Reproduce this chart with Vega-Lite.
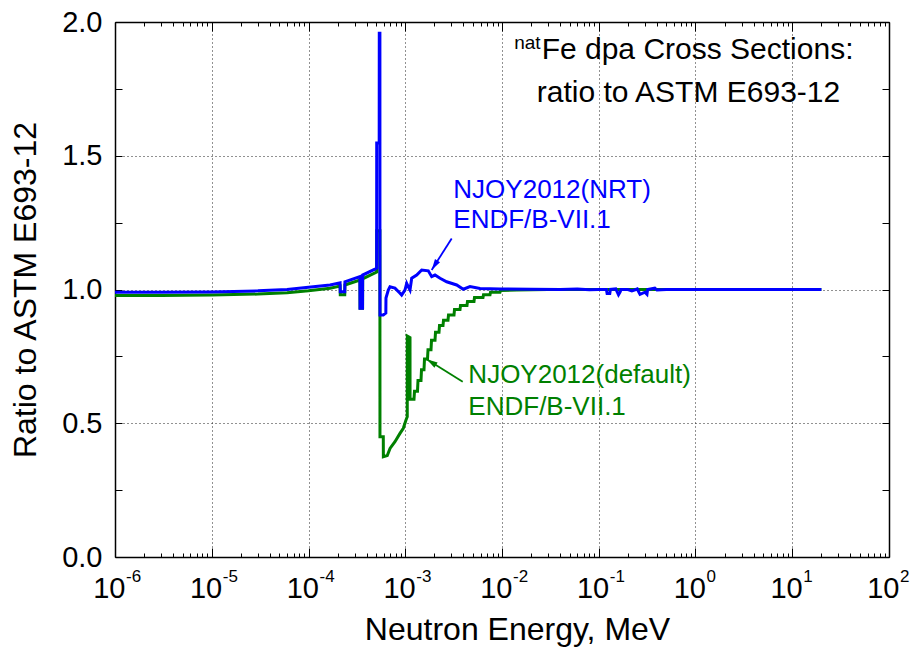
{
  "$schema": "https://vega.github.io/schema/vega-lite/v6.json",
  "width": 774,
  "height": 535,
  "autosize": {"type": "none"},
  "padding": {"left": 115, "top": 22, "right": 22, "bottom": 96},
  "background": "white",
  "config": {
    "view": {"stroke": null},
    "font": "Liberation Sans",
    "axis": {"labelFont": "Liberation Sans", "titleFont": "Liberation Sans", "labelColor": "black", "titleColor": "black", "tickColor": "black", "domainColor": "black", "titleFontWeight": "normal"}
  },
  "datasets": {
    "nrt": [
      {"E": 1e-6, "v": 0.990}, {"E": 3e-6, "v": 0.990}, {"E": 1e-5, "v": 0.991}, {"E": 3e-5, "v": 0.995},
      {"E": 6e-5, "v": 1.0}, {"E": 1e-4, "v": 1.008}, {"E": 1.67e-4, "v": 1.017}, {"E": 2.12e-4, "v": 1.025},
      {"E": 2.13e-4, "v": 0.992}, {"E": 2.37e-4, "v": 0.992}, {"E": 2.38e-4, "v": 1.029}, {"E": 3.40e-4, "v": 1.048},
      {"E": 3.41e-4, "v": 0.93}, {"E": 3.62e-4, "v": 0.93}, {"E": 3.63e-4, "v": 1.054}, {"E": 4.86e-4, "v": 1.076},
      {"E": 5.06e-4, "v": 1.08}, {"E": 5.07e-4, "v": 1.548}, {"E": 5.38e-4, "v": 1.548}, {"E": 5.39e-4, "v": 1.958},
      {"E": 5.47e-4, "v": 1.958}, {"E": 5.48e-4, "v": 0.905}, {"E": 5.93e-4, "v": 0.905}, {"E": 6.30e-4, "v": 0.912},
      {"E": 6.32e-4, "v": 0.968}, {"E": 6.68e-4, "v": 0.998}, {"E": 6.95e-4, "v": 1.01}, {"E": 7.83e-4, "v": 1.005},
      {"E": 8.83e-4, "v": 0.986}, {"E": 9.18e-4, "v": 0.979}, {"E": 9.93e-4, "v": 0.998}, {"E": 1.035e-3, "v": 1.023},
      {"E": 1.076e-3, "v": 1.01}, {"E": 1.12e-3, "v": 0.998}, {"E": 1.166e-3, "v": 1.042}, {"E": 1.313e-3, "v": 1.054},
      {"E": 1.479e-3, "v": 1.073}, {"E": 1.73e-3, "v": 1.07}, {"E": 1.876e-3, "v": 1.048}, {"E": 2.03e-3, "v": 1.054},
      {"E": 2.29e-3, "v": 1.042}, {"E": 2.68e-3, "v": 1.029}, {"E": 3.4e-3, "v": 1.017}, {"E": 3.98e-3, "v": 1.001},
      {"E": 4.67e-3, "v": 1.011}, {"E": 5.93e-3, "v": 1.004}, {"E": 9.53e-3, "v": 1.002}, {"E": 0.02, "v": 1.001},
      {"E": 0.04, "v": 1.0}, {"E": 0.06, "v": 1.002}, {"E": 0.08, "v": 0.999}, {"E": 0.1, "v": 1.0},
      {"E": 0.12, "v": 1.0}, {"E": 0.122, "v": 0.985}, {"E": 0.13, "v": 0.985}, {"E": 0.132, "v": 1.0},
      {"E": 0.15, "v": 1.002}, {"E": 0.16, "v": 0.98}, {"E": 0.166, "v": 0.99}, {"E": 0.17, "v": 1.0},
      {"E": 0.2, "v": 1.0}, {"E": 0.22, "v": 0.995}, {"E": 0.25, "v": 1.002}, {"E": 0.267, "v": 0.982},
      {"E": 0.3, "v": 0.99}, {"E": 0.315, "v": 0.982}, {"E": 0.32, "v": 1.0}, {"E": 0.38, "v": 1.005},
      {"E": 0.4, "v": 0.998}, {"E": 0.5, "v": 1.0}, {"E": 1, "v": 1.0}, {"E": 20, "v": 1.0}
    ],
    "def": [
      {"E": 1e-6, "v": 0.978}, {"E": 3e-6, "v": 0.978}, {"E": 1e-5, "v": 0.979}, {"E": 3e-5, "v": 0.983},
      {"E": 6e-5, "v": 0.988}, {"E": 1e-4, "v": 0.995}, {"E": 1.67e-4, "v": 1.005}, {"E": 2.12e-4, "v": 1.013},
      {"E": 2.13e-4, "v": 0.98}, {"E": 2.37e-4, "v": 0.98}, {"E": 2.38e-4, "v": 1.017}, {"E": 3.40e-4, "v": 1.035},
      {"E": 3.41e-4, "v": 0.93}, {"E": 3.62e-4, "v": 0.93}, {"E": 3.63e-4, "v": 1.04}, {"E": 5.06e-4, "v": 1.065},
      {"E": 5.07e-4, "v": 1.22}, {"E": 5.47e-4, "v": 1.22}, {"E": 5.48e-4, "v": 0.45}, {"E": 5.93e-4, "v": 0.45},
      {"E": 5.94e-4, "v": 0.375}, {"E": 6.52e-4, "v": 0.379}, {"E": 6.96e-4, "v": 0.406}, {"E": 7.83e-4, "v": 0.431},
      {"E": 8.82e-4, "v": 0.462}, {"E": 9.55e-4, "v": 0.481}, {"E": 1.018e-3, "v": 0.512}, {"E": 1.049e-3, "v": 0.524},
      {"E": 1.05e-3, "v": 0.826}, {"E": 1.12e-3, "v": 0.82}, {"E": 1.121e-3, "v": 0.59},
      {"E": 1.2316e-3, "v": 0.59}, {"E": 1.2463e-3, "v": 0.62}, {"E": 1.3384e-3, "v": 0.62}, {"E": 1.3545e-3, "v": 0.66},
      {"E": 1.4547e-3, "v": 0.66}, {"E": 1.4721e-3, "v": 0.70}, {"E": 1.5621e-3, "v": 0.70}, {"E": 1.5810e-3, "v": 0.74},
      {"E": 1.6982e-3, "v": 0.74}, {"E": 1.7185e-3, "v": 0.775}, {"E": 1.8455e-3, "v": 0.775}, {"E": 1.8677e-3, "v": 0.81},
      {"E": 2.0300e-3, "v": 0.81}, {"E": 2.0545e-3, "v": 0.84}, {"E": 2.2330e-3, "v": 0.84}, {"E": 2.2599e-3, "v": 0.865},
      {"E": 2.4559e-3, "v": 0.865}, {"E": 2.4855e-3, "v": 0.885}, {"E": 2.7664e-3, "v": 0.885}, {"E": 2.7997e-3, "v": 0.905},
      {"E": 3.1911e-3, "v": 0.905}, {"E": 3.2295e-3, "v": 0.925}, {"E": 3.6805e-3, "v": 0.925}, {"E": 3.7248e-3, "v": 0.94},
      {"E": 4.3459e-3, "v": 0.94}, {"E": 4.3982e-3, "v": 0.955}, {"E": 5.1346e-3, "v": 0.955}, {"E": 5.1963e-3, "v": 0.97},
      {"E": 6.3604e-3, "v": 0.97}, {"E": 6.4370e-3, "v": 0.98}, {"E": 7.5162e-3, "v": 0.98}, {"E": 7.6066e-3, "v": 0.99},
      {"E": 9.5346e-3, "v": 0.99}, {"E": 9.6490e-3, "v": 0.996},
      {"E": 1.42e-2, "v": 0.998}, {"E": 0.03, "v": 1.0}, {"E": 20, "v": 1.0}
    ],
    "exps": [
      {"E": 1e-6, "t": "-6"}, {"E": 1e-5, "t": "-5"}, {"E": 1e-4, "t": "-4"}, {"E": 1e-3, "t": "-3"},
      {"E": 1e-2, "t": "-2"}, {"E": 1e-1, "t": "-1"}, {"E": 1, "t": "0"}, {"E": 10, "t": "1"}, {"E": 100, "t": "2"}
    ],
    "notes": [
      {"E": 3.14e-3, "v": 1.342, "t": "NJOY2012(NRT)", "s": "NRT"},
      {"E": 3.14e-3, "v": 1.230, "t": "ENDF/B-VII.1", "s": "NRT"},
      {"E": 4.49e-3, "v": 0.649, "t": "NJOY2012(default)", "s": "default"},
      {"E": 4.49e-3, "v": 0.531, "t": "ENDF/B-VII.1", "s": "default"}
    ],
    "title": [
      {"E": 0.0257, "v": 1.862, "t": "Fe dpa Cross Sections:"},
      {"E": 0.02284, "v": 1.701, "t": "ratio to ASTM E693-12"}
    ],
    "sup": [{"E": 0.0257, "v": 1.862, "t": "nat"}],
    "arrows": [
      {"E1": 3.02e-3, "v1": 1.191, "E2": 1.876e-3, "v2": 1.073, "s": "NRT"},
      {"E1": 3.925e-3, "v1": 0.655, "E2": 1.666e-3, "v2": 0.739, "s": "default"}
    ]
  },
  "resolve": {"axis": {"x": "independent", "y": "independent"}},
  "layer": [
    {
      "data": {"name": "def"},
      "mark": {"type": "line", "color": "#008000", "strokeWidth": 3},
      "encoding": {
        "x": {"field": "E", "type": "quantitative",
          "scale": {"type": "log", "domain": [1e-6, 100], "nice": false},
          "axis": {"orient": "bottom", "values": [1e-6, 1e-5, 1e-4, 1e-3, 1e-2, 1e-1, 1, 10, 100],
            "labelExpr": "'10'", "labelFontSize": 29, "labelAlign": "right", "labelOffset": 10,
            "labelBaseline": "alphabetic", "labelPadding": 49, "labelFlush": false, "labelOverlap": false,
            "tickSize": -9, "tickWidth": 1, "domainWidth": 1.5,
            "grid": true, "gridColor": "#222222", "gridDash": [1, 3], "gridWidth": 1,
            "title": "Neutron Energy, MeV", "titleFontSize": 32, "titleX": 402, "titleY": 82,
            "titleBaseline": "alphabetic", "titleAlign": "center"}},
        "y": {"field": "v", "type": "quantitative",
          "scale": {"domain": [0, 2], "nice": false, "zero": false},
          "axis": {"orient": "left", "values": [0, 0.25, 0.5, 0.75, 1, 1.25, 1.5, 1.75, 2],
            "labelExpr": "datum.value*2 == round(datum.value*2) ? format(datum.value, '.1f') : ''",
            "labelFontSize": 29, "labelPadding": 20, "labelBaseline": "middle", "labelFlush": false, "labelOverlap": false,
            "tickSize": -7, "tickWidth": 1, "domainWidth": 1.5,
            "grid": true, "gridColor": "#222222", "gridDash": [1, 3], "gridWidth": 1,
            "gridOpacity": {"condition": {"test": "datum.value*2 != round(datum.value*2) || datum.value == 0 || datum.value == 2", "value": 0}, "value": 1},
            "title": "Ratio to ASTM E693-12", "titleFontSize": 32, "titleX": -80, "titleY": 267.5,
            "titleBaseline": "alphabetic", "titleAlign": "center", "titleAngle": -90}}
      }
    },
    {
      "data": {"name": "nrt"},
      "mark": {"type": "line", "color": "#0000ff", "strokeWidth": 3},
      "encoding": {
        "x": {"field": "E", "type": "quantitative",
          "scale": {"type": "log", "domain": [1e-6, 100], "nice": false},
          "axis": {"orient": "top", "values": [1e-6, 1e-5, 1e-4, 1e-3, 1e-2, 1e-1, 1, 10, 100],
            "labels": false, "tickSize": -9, "tickWidth": 1, "domainWidth": 1.5, "grid": false, "title": null}},
        "y": {"field": "v", "type": "quantitative",
          "scale": {"domain": [0, 2], "nice": false, "zero": false},
          "axis": {"orient": "right", "values": [0, 0.25, 0.5, 0.75, 1, 1.25, 1.5, 1.75, 2],
            "labels": false, "tickSize": -7, "tickWidth": 1, "domainWidth": 1.5, "grid": false, "title": null}}
      }
    },
    {
      "data": {"name": "exps"},
      "mark": {"type": "text", "font": "Liberation Sans", "fontSize": 17, "align": "left", "baseline": "alphabetic", "dx": 11, "dy": 25, "color": "black"},
      "encoding": {
        "x": {"field": "E", "type": "quantitative",
          "scale": {"type": "log", "domain": [1e-6, 100], "nice": false},
          "axis": {"orient": "bottom", "values": [2e-6,3e-6,4e-6,5e-6,6e-6,7e-6,8e-6,9e-6,2e-5,3e-5,4e-5,5e-5,6e-5,7e-5,8e-5,9e-5,2e-4,3e-4,4e-4,5e-4,6e-4,7e-4,8e-4,9e-4,2e-3,3e-3,4e-3,5e-3,6e-3,7e-3,8e-3,9e-3,2e-2,3e-2,4e-2,5e-2,6e-2,7e-2,8e-2,9e-2,0.2,0.3,0.4,0.5,0.6,0.7,0.8,0.9,2,3,4,5,6,7,8,9,20,30,40,50,60,70,80,90],
            "labels": false, "domain": false, "grid": false, "tickSize": -4, "tickWidth": 1, "title": null}},
        "y": {"datum": 0, "type": "quantitative", "scale": {"domain": [0, 2], "nice": false, "zero": false}, "axis": null},
        "text": {"field": "t"}
      }
    },
    {
      "data": {"name": "notes"},
      "mark": {"type": "text", "font": "Liberation Sans", "fontSize": 26, "align": "left", "baseline": "alphabetic"},
      "encoding": {
        "x": {"field": "E", "type": "quantitative",
          "scale": {"type": "log", "domain": [1e-6, 100], "nice": false},
          "axis": {"orient": "top", "values": [2e-6,3e-6,4e-6,5e-6,6e-6,7e-6,8e-6,9e-6,2e-5,3e-5,4e-5,5e-5,6e-5,7e-5,8e-5,9e-5,2e-4,3e-4,4e-4,5e-4,6e-4,7e-4,8e-4,9e-4,2e-3,3e-3,4e-3,5e-3,6e-3,7e-3,8e-3,9e-3,2e-2,3e-2,4e-2,5e-2,6e-2,7e-2,8e-2,9e-2,0.2,0.3,0.4,0.5,0.6,0.7,0.8,0.9,2,3,4,5,6,7,8,9,20,30,40,50,60,70,80,90],
            "labels": false, "domain": false, "grid": false, "tickSize": -4, "tickWidth": 1, "title": null}},
        "y": {"field": "v", "type": "quantitative", "scale": {"domain": [0, 2], "nice": false, "zero": false}, "axis": null},
        "text": {"field": "t"},
        "color": {"field": "s", "type": "nominal", "scale": {"domain": ["NRT", "default"], "range": ["#0000ff", "#008000"]}, "legend": null}
      }
    },
    {
      "data": {"name": "title"},
      "mark": {"type": "text", "font": "Liberation Sans", "fontSize": 30, "align": "left", "baseline": "alphabetic", "color": "black"},
      "encoding": {
        "x": {"field": "E", "type": "quantitative", "scale": {"type": "log", "domain": [1e-6, 100], "nice": false}, "axis": null},
        "y": {"field": "v", "type": "quantitative", "scale": {"domain": [0, 2], "nice": false, "zero": false}, "axis": null},
        "text": {"field": "t"}
      }
    },
    {
      "data": {"name": "sup"},
      "mark": {"type": "text", "font": "Liberation Sans", "fontSize": 19, "align": "right", "baseline": "alphabetic", "dx": -1, "dy": -10, "color": "black"},
      "encoding": {
        "x": {"field": "E", "type": "quantitative", "scale": {"type": "log", "domain": [1e-6, 100], "nice": false}, "axis": null},
        "y": {"field": "v", "type": "quantitative", "scale": {"domain": [0, 2], "nice": false, "zero": false}, "axis": null},
        "text": {"field": "t"}
      }
    },
    {
      "data": {"name": "arrows"},
      "mark": {"type": "rule", "strokeWidth": 1.8},
      "encoding": {
        "x": {"field": "E1", "type": "quantitative", "scale": {"type": "log", "domain": [1e-6, 100], "nice": false}, "axis": null},
        "y": {"field": "v1", "type": "quantitative", "scale": {"domain": [0, 2], "nice": false, "zero": false}, "axis": null},
        "x2": {"field": "E2"},
        "y2": {"field": "v2"},
        "color": {"field": "s", "type": "nominal", "scale": {"domain": ["NRT", "default"], "range": ["#0000ff", "#008000"]}, "legend": null}
      }
    },
    {
      "data": {"name": "arrows"},
      "transform": [{"filter": "datum.s == 'NRT'"}],
      "mark": {"type": "point", "shape": "M0,0L-0.6,2.2L0.6,2.2Z", "filled": true, "size": 100, "opacity": 1, "angle": 212, "color": "#0000ff"},
      "encoding": {
        "x": {"field": "E2", "type": "quantitative", "scale": {"type": "log", "domain": [1e-6, 100], "nice": false}, "axis": null},
        "y": {"field": "v2", "type": "quantitative", "scale": {"domain": [0, 2], "nice": false, "zero": false}, "axis": null}
      }
    },
    {
      "data": {"name": "arrows"},
      "transform": [{"filter": "datum.s == 'default'"}],
      "mark": {"type": "point", "shape": "M0,0L-0.6,2.2L0.6,2.2Z", "filled": true, "size": 100, "opacity": 1, "angle": 302, "color": "#008000"},
      "encoding": {
        "x": {"field": "E2", "type": "quantitative", "scale": {"type": "log", "domain": [1e-6, 100], "nice": false}, "axis": null},
        "y": {"field": "v2", "type": "quantitative", "scale": {"domain": [0, 2], "nice": false, "zero": false}, "axis": null}
      }
    }
  ]
}
